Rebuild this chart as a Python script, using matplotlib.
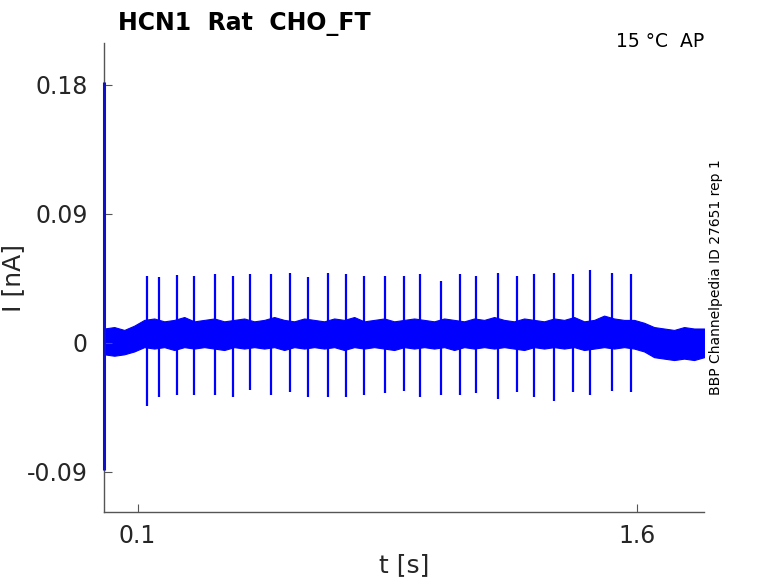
import numpy as np
import matplotlib
matplotlib.use('Agg')
import matplotlib.pyplot as plt

# noise band envelope of the current trace (nA)
env_t = np.round(np.arange(0, 61) * 0.03, 2)
env_hi = [10, 11, 9, 12, 16, 17, 15, 16, 18, 15, 16, 17, 15, 16, 17, 15, 16, 18, 16, 15,
          17, 16, 15, 17, 16, 18, 15, 16, 17, 15, 16, 17, 16, 15, 17, 16, 15, 17, 16, 18,
          16, 15, 17, 16, 15, 17, 16, 18, 15, 16, 19, 17, 16, 16, 14, 11, 10, 9, 11, 10, 10]
env_lo = [-8, -9, -8, -6, -3, -4, -3, -5, -3, -4, -3, -4, -5, -3, -4, -3, -4, -3, -5, -3,
          -4, -3, -4, -3, -5, -3, -4, -3, -4, -5, -3, -4, -3, -4, -3, -5, -3, -4, -3, -4,
          -3, -4, -5, -3, -4, -3, -4, -3, -5, -4, -3, -4, -3, -4, -6, -10, -11, -12, -11, -12, -10]

# action potential current spikes
spike_t = [0.127, 0.163, 0.218, 0.269, 0.331, 0.386, 0.437, 0.501, 0.558, 0.610,
           0.670, 0.726, 0.778, 0.842, 0.899, 0.949, 1.012, 1.068, 1.117, 1.181,
           1.240, 1.291, 1.351, 1.407, 1.459, 1.523, 1.580]
spike_hi = [0.0465, 0.046, 0.047, 0.0465, 0.048, 0.0465, 0.048, 0.048, 0.049, 0.046,
            0.049, 0.048, 0.0465, 0.0467, 0.0465, 0.048, 0.0433, 0.048, 0.0467, 0.049,
            0.0465, 0.048, 0.049, 0.048, 0.0507, 0.049, 0.048]
spike_lo = [-0.044, -0.038, -0.0365, -0.0365, -0.0365, -0.038, -0.033, -0.0365, -0.0346, -0.0377,
            -0.0377, -0.0377, -0.0365, -0.0353, -0.0335, -0.0377, -0.0365, -0.0365, -0.035, -0.039,
            -0.0346, -0.0377, -0.0407, -0.0346, -0.0365, -0.0335, -0.0346]

# capacitive transient at t = 0
trans_t = 0.0
trans_hi = 0.182
trans_lo = -0.089

xticks = [0.1, 1.6]
xticklabels = ['0.1', '1.6']
yticks = [-0.09, 0, 0.09, 0.18]
yticklabels = ['-0.09', '0', '0.09', '0.18']

fig = plt.figure(figsize=(7.78, 5.83), dpi=100)
ax = fig.add_axes([0.134, 0.1218, 0.771, 0.804])

blue = '#0000ff'
ax.fill_between(env_t, np.array(env_lo) / 1000, np.array(env_hi) / 1000,
                color=blue, lw=0.8, edgecolor=blue)
ax.vlines(spike_t, spike_lo, spike_hi, color=blue, lw=1.6)
ax.vlines([trans_t], [trans_lo], [trans_hi], color='#1010c8', lw=2.2,
          clip_on=False, zorder=4)

ax.set_xlim(0, 1.8)
ax.set_ylim(-0.118, 0.209)
ax.set_xticks(xticks)
ax.set_xticklabels(xticklabels)
ax.set_yticks(yticks)
ax.set_yticklabels(yticklabels)

for s in ['top', 'right']:
    ax.spines[s].set_visible(False)
for s in ['left', 'bottom']:
    ax.spines[s].set_color('#555555')
    ax.spines[s].set_linewidth(1.0)
ax.tick_params(axis='both', direction='in', length=6, color='#555555',
               labelcolor='#262626', labelsize=17)
ax.tick_params(axis='y', pad=12)
ax.tick_params(axis='x', pad=9)

ax.set_xlabel('t [s]', fontsize=18, color='#262626', labelpad=3)
ax.set_ylabel('I [nA]', fontsize=18, color='#262626', labelpad=1)

fig.text(118 / 778, 1 - 30 / 583, 'HCN1  Rat  CHO_FT', fontsize=17,
         fontweight='bold', ha='left', va='baseline')
ax.text(1.0, 0.991, '15 °C  AP', transform=ax.transAxes, fontsize=13.5,
        ha='right', va='baseline')
fig.text(716 / 778, 0.5238, 'BBP Channelpedia ID 27651 rep 1', fontsize=10,
         rotation=90, ha='center', va='center')

fig.savefig('out.png', dpi=100)
